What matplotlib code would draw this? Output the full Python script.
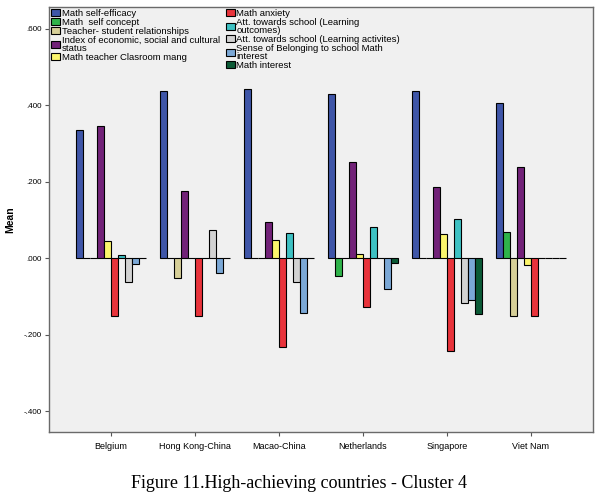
import numpy as np
import matplotlib.pyplot as plt

plt.rcParams['font.family'] = ['Liberation Sans', 'DejaVu Sans']

# countries on the x axis
countries = ["Belgium", "Hong Kong-China", "Macao-China", "Netherlands", "Singapore", "Viet Nam"]

# series (legend order) and mean values per country
series = [
    "Math self-efficacy",
    "Math  self concept",
    "Teacher- student relationships",
    "Index of economic, social and cultural\nstatus",
    "Math teacher Clasroom mang",
    "Math anxiety",
    "Att. towards school (Learning\noutcomes)",
    "Att. towards school (Learning activites)",
    "Sense of Belonging to school Math\ninterest",
    "Math interest",
]
self_efficacy = [0.336, 0.437, 0.442, 0.429, 0.438, 0.407]
self_concept = [0.0, 0.0, 0.0, -0.047, 0.0, 0.070]
teacher_student = [0.0, -0.051, 0.0, 0.0, 0.0, -0.152]
escs = [0.346, 0.175, 0.094, 0.252, 0.187, 0.238]
classroom_mang = [0.045, 0.0, 0.048, 0.011, 0.064, -0.018]
anxiety = [-0.152, -0.151, -0.231, -0.127, -0.242, -0.150]
att_outcomes = [0.009, 0.0, 0.067, 0.083, 0.103, 0.0]
att_activities = [-0.061, 0.073, -0.062, 0.0, -0.116, 0.0]
belonging = [-0.016, -0.038, -0.143, -0.081, -0.108, 0.0]
interest = [0.0, 0.0, 0.0, -0.012, -0.145, 0.0]

values = [self_efficacy, self_concept, teacher_student, escs, classroom_mang,
          anxiety, att_outcomes, att_activities, belonging, interest]
colors = ["#3f56a8", "#2fb34a", "#d6cf98", "#722278", "#fbf56c",
          "#e8333b", "#3ec1c3", "#d2d2d2", "#7ba8d6", "#0b5a36"]

fig = plt.figure(figsize=(5.98, 5.0), dpi=100)
ax = fig.add_axes([49 / 598, 68 / 500, 544 / 598, 425 / 500])
ax.set_facecolor("#f0f0f0")

x = np.arange(len(countries))
width = 0.0833
for i, (name, vals) in enumerate(zip(series, values)):
    offs = (i - 4.5) * width
    ax.bar(x + offs, vals, width, color=colors[i], edgecolor="black",
           linewidth=0.8, label=name)

ax.set_xlim(-0.735, 5.74)
ax.set_ylim(-0.454, 0.657)
ax.set_yticks([-0.4, -0.2, 0.0, 0.2, 0.4, 0.6])
ax.set_yticklabels(["-.400", "-.200", ".000", ".200", ".400", ".600"], fontsize=5.8)
ax.set_xticks(x)
ax.set_xticklabels(countries, fontsize=6.5)
ax.tick_params(axis="both", length=3, width=0.8, color="#555555", pad=2)
ax.tick_params(axis="x", pad=4)
ax.set_ylabel("Mean", fontsize=7.5, fontweight="bold", labelpad=6)

for s in ax.spines.values():
    s.set_color("#6a6a6a")
    s.set_linewidth(1.0)

leg = ax.legend(ncol=2, loc="upper left", bbox_to_anchor=(0, 1), frameon=False,
                fontsize=6.8, handlelength=1.0, handleheight=0.85,
                handletextpad=0.15, labelspacing=0.0, columnspacing=0.6,
                borderaxespad=0.0, borderpad=0.2)
for t in leg.get_texts():
    t.set_linespacing(0.85)

fig.text(0.5, 0.034, "Figure 11.High-achieving countries - Cluster 4",
         ha="center", va="center", fontsize=13, family="Liberation Serif")

plt.savefig("out.png", dpi=100)
